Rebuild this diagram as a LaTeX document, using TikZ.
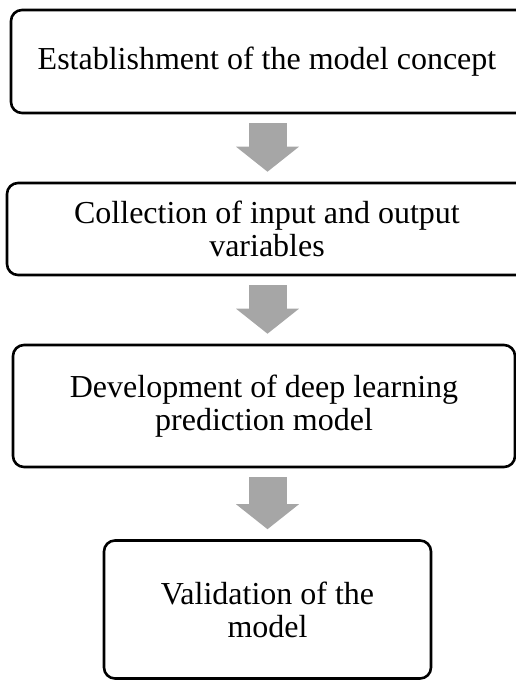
\documentclass[tikz,border=0pt]{standalone}
\usepackage{fontspec}
\setmainfont{Liberation Serif}
\usetikzlibrary{arrows.meta}
\definecolor{arrowgray}{HTML}{A6A6A6}
\begin{document}
\begin{tikzpicture}[x=1pt,y=-1pt,
  stage/.style={draw=black,line width=2.6pt,rounded corners=11pt,align=center,inner sep=0pt,font=\fontsize{32}{33}\selectfont},
  flow/.style={draw=arrowgray,line width=38pt,-{Triangle[width=63pt,length=25pt,line width=0pt]},shorten <=9pt,shorten >=10pt}]
\useasboundingbox (0,0) rectangle (516,680);
\node[stage,minimum width=519pt,minimum height=103pt] (concept) at (270.5,61.5) {\hspace*{-7pt}Establishment of the model concept};
\node[stage,minimum width=528pt,minimum height=92pt] (variables) at (271,229) {\hspace*{-8pt}Collection of input and output\\\hspace*{-8pt}variables};
\node[stage,minimum width=502pt,minimum height=122pt] (deep) at (264,406) {Development of deep learning\\prediction model};
\node[stage,minimum width=327pt,minimum height=138pt] (valid) at (267.5,609.5) {Validation of the\\model};
\draw[flow] (concept.south -| valid.north) -- (variables.north -| valid.north);
\draw[flow] (variables.south -| valid.north) -- (deep.north -| valid.north);
\draw[flow] (deep.south -| valid.north) -- (valid.north);
\end{tikzpicture}
\end{document}
